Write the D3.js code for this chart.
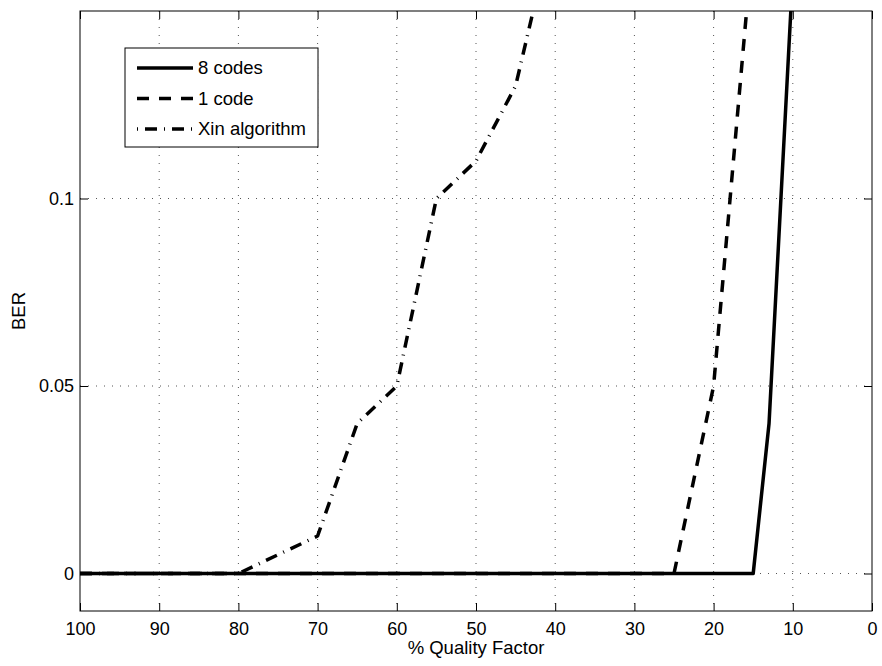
<!DOCTYPE html>
<html lang="en">
<head>
  <meta charset="UTF-8">
  <title>BER vs Quality Factor</title>
  <script src="https://d3js.org/d3.v7.min.js"></script>
  <style>
    body {
      margin: 0;
      background: #fff;
      font-family: 'Liberation Sans', Arial, Helvetica, sans-serif;
    }
    svg text {
      font-family: 'Liberation Sans', Arial, Helvetica, sans-serif;
      fill: #000;
    }
    .grid line {
      stroke: #555;
      stroke-width: 1;
      stroke-dasharray: 1, 7;
    }
  </style>
</head>
<body>
  <div id="chart"></div>
  <script>
    // values
    const xTicks = [100, 90, 80, 70, 60, 50, 40, 30, 20, 10, 0];
    const yTicks = [0, 0.05, 0.1];

    const q8codes = [100, 90, 80, 70, 60, 50, 40, 30, 20, 15, 13, 10];
    const ber8codes = [0, 0, 0, 0, 0, 0, 0, 0, 0, 0, 0.04, 0.16];

    const q1code = [100, 90, 80, 70, 60, 50, 40, 30, 25, 20, 15];
    const ber1code = [0, 0, 0, 0, 0, 0, 0, 0, 0, 0.05, 0.17];

    const qXin = [100, 90, 80, 70, 65, 60, 55, 50, 45, 40];
    const berXin = [0, 0, 0, 0.01, 0.04, 0.05, 0.10, 0.11, 0.13, 0.175];

    const seriesNames = ["8 codes", "1 code", "Xin algorithm"];
    const seriesDash = [null, "12,10", "12,7,1,7"];

    const margin = { top: 11, right: 10, bottom: 55, left: 80 },
      width = 882 - margin.left - margin.right,
      height = 666 - margin.top - margin.bottom;

    const svg = d3.select("#chart")
      .append("svg")
      .attr("width", 882)
      .attr("height", 666);

    const g = svg.append("g")
      .attr("transform", `translate(${margin.left},${margin.top})`);

    const x = d3.scaleLinear().domain([100, 0]).range([0, width]);
    const y = d3.scaleLinear().domain([-0.01, 0.15]).range([height, 0]);

    // dotted grid
    const grid = g.append("g").attr("class", "grid");
    grid.selectAll(".gx")
      .data(xTicks.filter(d => d !== 0 && d !== 100))
      .enter().append("line")
      .attr("x1", d => x(d)).attr("x2", d => x(d))
      .attr("y1", 0).attr("y2", height);
    grid.selectAll(".gy")
      .data(yTicks)
      .enter().append("line")
      .attr("x1", 0).attr("x2", width)
      .attr("y1", d => y(d)).attr("y2", d => y(d));

    g.append("clipPath").attr("id", "clip")
      .append("rect").attr("width", width).attr("height", height);

    const line = d3.line()
      .x(d => x(d[0]))
      .y(d => y(d[1]));

    const series = [
      d3.zip(q8codes, ber8codes),
      d3.zip(q1code, ber1code),
      d3.zip(qXin, berXin)
    ];

    const lines = g.append("g").attr("clip-path", "url(#clip)");
    // draw Xin first so the solid line sits on top along zero
    [2, 1, 0].forEach(i => {
      lines.append("path")
        .datum(series[i])
        .attr("fill", "none")
        .attr("stroke", "#000")
        .attr("stroke-width", 3.5)
        .attr("stroke-linejoin", "round")
        .attr("stroke-dasharray", seriesDash[i])
        .attr("d", line);
    });

    // axes, ticks pointing inward
    const fmtX = d3.format("d");
    const fmtY = d => d === 0 ? "0" : String(d);

    const xAxis = g.append("g")
      .attr("transform", `translate(0,${height})`)
      .call(d3.axisBottom(x).tickValues(xTicks).tickFormat(fmtX).tickSize(-8).tickPadding(11));
    const xTop = g.append("g")
      .call(d3.axisTop(x).tickValues(xTicks).tickFormat("").tickSize(-8));
    const yAxis = g.append("g")
      .call(d3.axisLeft(y).tickValues(yTicks).tickFormat(fmtY).tickSize(-8).tickPadding(6));
    const yRight = g.append("g")
      .attr("transform", `translate(${width},0)`)
      .call(d3.axisRight(y).tickValues(yTicks).tickFormat("").tickSize(-8));

    [xAxis, xTop, yAxis, yRight].forEach(a => {
      a.select(".domain").remove();
      a.selectAll("line").attr("stroke", "#000");
      a.selectAll("text").style("font-size", "18px");
    });

    g.append("rect")
      .attr("width", width)
      .attr("height", height)
      .attr("fill", "none")
      .attr("stroke", "#000")
      .attr("stroke-width", 1);

    g.append("text")
      .attr("x", width / 2)
      .attr("y", height + 43)
      .attr("text-anchor", "middle")
      .style("font-size", "18.5px")
      .text("% Quality Factor");

    g.append("text")
      .attr("transform", "rotate(-90)")
      .attr("x", -height / 2)
      .attr("y", -55)
      .attr("text-anchor", "middle")
      .style("font-size", "18.5px")
      .text("BER");

    // legend
    const legend = svg.append("g").attr("transform", "translate(125,48)");
    legend.append("rect")
      .attr("width", 193)
      .attr("height", 99)
      .attr("fill", "#fff")
      .attr("stroke", "#000")
      .attr("stroke-width", 1);

    const rowY = d3.scalePoint().domain(seriesNames).range([20, 81]);
    seriesNames.forEach((name, i) => {
      legend.append("line")
        .attr("x1", 12).attr("x2", 68)
        .attr("y1", rowY(name)).attr("y2", rowY(name))
        .attr("stroke", "#000")
        .attr("stroke-width", 3.5)
        .attr("stroke-dasharray", seriesDash[i])
        .attr("stroke-dashoffset", i === 2 ? 19 : 0);
      legend.append("text")
        .attr("x", 73)
        .attr("y", rowY(name))
        .attr("dy", "0.35em")
        .style("font-size", "18.5px")
        .text(name);
    });
  </script>
</body>
</html>
